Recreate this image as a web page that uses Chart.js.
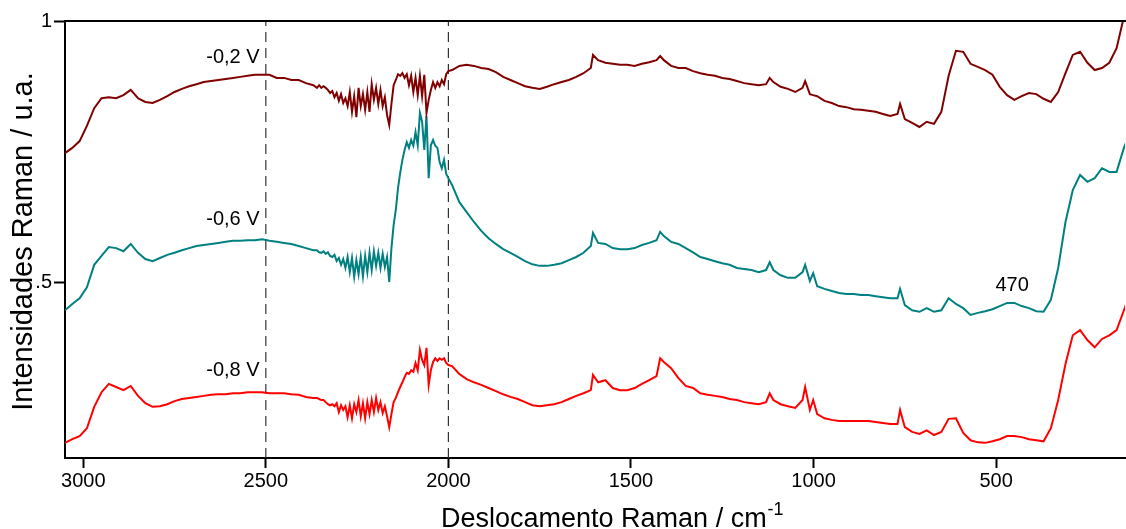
<!DOCTYPE html>
<html>
<head>
<meta charset="utf-8">
<script src="https://cdn.jsdelivr.net/npm/chart.js"></script>
<style>
  html, body { margin: 0; padding: 0; background: #fff; }
  #wrap { width: 1126px; height: 529px; position: relative; }
</style>
</head>
<body>
<div id="wrap"><canvas id="raman"></canvas></div>
<script>
  // Raman shift (cm-1), shared by the three spectra
  const shift = [
    3050,3030,3010,2990,2970,2950,2930,2910,2890,2870,2850,2830,2810,2790,2770,2750,2730,2710,2690,2670,
    2650,2630,2610,2590,2570,2550,2530,2510,2490,2470,2450,2430,2410,2390,2370,
    2360,2354,2348,2342,2336,2330,2324,2318,2312,2306,2300,2294,2288,2282,2276,2270,2264,2258,2252,2246,
    2240,2234,2228,2222,2216,2210,2204,2198,2192,2186,2180,2174,2168,2162,2156,2150,2144,2138,2132,2126,
    2120,2114,2108,2102,2096,2090,2084,2078,2072,2066,2060,2054,2048,2042,2036,2030,2024,2018,2012,2006,2000,
    1990,1970,1950,1930,1910,1890,1870,1850,1830,1810,1790,1770,1750,1730,1710,1690,1670,1650,1630,1610,
    1604,1590,1570,1550,1530,1510,1490,1470,1450,1430,1420,1410,1390,1370,1350,1330,1310,1290,1270,1250,
    1230,1210,1190,1170,1150,1130,1120,1110,1090,1070,1050,1030,1023,1010,1001,990,970,950,930,910,
    890,870,850,830,810,790,770,763,750,730,710,690,670,650,630,610,590,570,550,530,
    510,490,470,450,430,410,390,370,350,330,310,290,270,250,230,210,190,170,150,130
  ];

  // -0,2 V
  const minus02 = [
    0.747,0.757,0.770,0.799,0.833,0.852,0.854,0.852,0.858,0.868,0.852,0.845,0.843,0.849,0.856,0.864,0.870,0.875,0.879,0.883,
    0.885,0.887,0.889,0.891,0.893,0.895,0.897,0.897,0.897,0.891,0.891,0.887,0.887,0.881,0.877,
    0.872,0.877,0.872,0.875,0.872,0.868,0.862,0.866,0.854,0.862,0.847,0.860,0.843,0.852,0.837,0.864,0.826,0.856,0.816,0.872,
    0.837,0.860,0.830,0.864,0.826,0.879,0.849,0.872,0.841,0.868,0.837,0.854,0.820,0.801,0.841,0.877,0.887,0.898,0.895,0.900,
    0.891,0.898,0.877,0.895,0.864,0.891,0.858,0.895,0.856,0.897,0.824,0.849,0.868,0.883,0.872,0.883,0.875,0.887,0.879,0.898,0.904,
    0.906,0.914,0.916,0.914,0.910,0.908,0.902,0.893,0.887,0.881,0.875,0.872,0.870,0.874,0.879,0.883,0.887,0.893,0.900,0.910,
    0.935,0.925,0.920,0.918,0.916,0.916,0.914,0.918,0.921,0.925,0.933,0.925,0.914,0.910,0.910,0.904,0.900,0.897,0.895,0.891,
    0.889,0.885,0.881,0.879,0.877,0.879,0.891,0.883,0.874,0.870,0.864,0.872,0.885,0.860,0.858,0.856,0.847,0.843,0.837,0.835,
    0.831,0.830,0.828,0.826,0.822,0.818,0.822,0.841,0.812,0.805,0.797,0.807,0.803,0.826,0.895,0.943,0.941,0.918,0.912,0.906,
    0.897,0.874,0.858,0.849,0.856,0.862,0.860,0.851,0.845,0.864,0.900,0.935,0.941,0.920,0.906,0.910,0.920,0.948,1.008,1.050
  ];

  // -0,6 V
  const minus06 = [
    0.446,0.458,0.469,0.490,0.533,0.550,0.567,0.565,0.559,0.573,0.556,0.544,0.540,0.546,0.552,0.556,0.561,0.565,0.569,0.571,
    0.573,0.575,0.577,0.579,0.579,0.580,0.580,0.582,0.579,0.577,0.575,0.573,0.569,0.565,0.561,
    0.561,0.557,0.556,0.559,0.554,0.557,0.550,0.548,0.552,0.540,0.546,0.533,0.544,0.527,0.548,0.519,0.546,0.510,0.542,0.515,
    0.548,0.511,0.550,0.519,0.556,0.523,0.559,0.531,0.556,0.527,0.554,0.529,0.548,0.500,0.565,0.609,0.638,0.680,0.709,0.734,
    0.753,0.768,0.757,0.772,0.761,0.787,0.762,0.824,0.807,0.753,0.818,0.699,0.762,0.772,0.761,0.757,0.730,0.718,0.734,0.707,0.699,
    0.686,0.653,0.634,0.615,0.598,0.584,0.573,0.563,0.556,0.548,0.540,0.534,0.531,0.531,0.533,0.536,0.542,0.548,0.556,0.569,
    0.594,0.575,0.573,0.565,0.563,0.563,0.565,0.571,0.575,0.580,0.596,0.588,0.577,0.573,0.565,0.557,0.548,0.544,0.540,0.536,
    0.533,0.527,0.525,0.523,0.519,0.523,0.538,0.523,0.513,0.508,0.508,0.519,0.533,0.502,0.517,0.492,0.487,0.483,0.479,0.477,
    0.477,0.475,0.475,0.473,0.471,0.469,0.469,0.487,0.456,0.446,0.443,0.450,0.443,0.446,0.469,0.458,0.450,0.437,0.441,0.444,
    0.448,0.454,0.460,0.460,0.454,0.450,0.444,0.443,0.466,0.527,0.615,0.676,0.705,0.692,0.699,0.718,0.711,0.711,0.757,0.791
  ];

  // -0,8 V
  const minus08 = [
    0.192,0.199,0.205,0.220,0.261,0.289,0.305,0.299,0.293,0.301,0.282,0.268,0.261,0.262,0.266,0.272,0.276,0.278,0.280,0.282,
    0.284,0.285,0.285,0.287,0.287,0.289,0.289,0.289,0.287,0.287,0.287,0.285,0.284,0.280,0.278,
    0.278,0.276,0.274,0.274,0.270,0.266,0.264,0.266,0.262,0.268,0.251,0.264,0.255,0.262,0.241,0.264,0.239,0.266,0.251,0.274,
    0.243,0.268,0.239,0.270,0.247,0.274,0.251,0.278,0.255,0.270,0.249,0.262,0.243,0.222,0.247,0.270,0.278,0.289,0.299,0.308,
    0.318,0.326,0.324,0.331,0.328,0.345,0.331,0.370,0.351,0.341,0.374,0.303,0.331,0.347,0.354,0.349,0.354,0.351,0.354,0.345,0.341,
    0.339,0.324,0.314,0.308,0.303,0.297,0.291,0.285,0.280,0.276,0.270,0.264,0.262,0.264,0.266,0.270,0.276,0.282,0.287,0.293,
    0.322,0.308,0.312,0.297,0.293,0.293,0.297,0.305,0.312,0.320,0.354,0.347,0.335,0.316,0.301,0.297,0.287,0.284,0.282,0.280,
    0.276,0.274,0.270,0.268,0.266,0.270,0.287,0.274,0.266,0.262,0.259,0.274,0.299,0.255,0.274,0.247,0.239,0.236,0.234,0.234,
    0.234,0.234,0.234,0.232,0.230,0.228,0.228,0.255,0.222,0.213,0.209,0.216,0.207,0.213,0.238,0.239,0.211,0.197,0.193,0.192,
    0.195,0.199,0.205,0.205,0.203,0.199,0.197,0.195,0.220,0.274,0.343,0.398,0.408,0.389,0.375,0.391,0.398,0.408,0.446,0.485
  ];

  const xTicks = [3000, 2500, 2000, 1500, 1000, 500];
  const yTicks = [0.5, 1];
  const markers = [2500, 2000];
  const notes = [
    { text: '-0,2 V', x: 2590, y: 0.931 },
    { text: '-0,6 V', x: 2590, y: 0.619 },
    { text: '-0,8 V', x: 2590, y: 0.331 },
    { text: '470', x: 456, y: 0.494 }
  ];
  const X_MIN = 147, X_MAX = 3050, Y_MIN = 0.163, Y_MAX = 1.0;

  [minus02, minus06, minus08].forEach((s, i) => {
    if (s.length !== shift.length) console.error('series ' + i + ' has ' + s.length + ' points, expected ' + shift.length);
  });

  const FONT = '"Liberation Sans", Arial, sans-serif';
  const toXY = arr => shift.map((x, i) => ({ x, y: arr[i] }));

  function spectrum(data, color) {
    return { data: toXY(data), borderColor: color, borderWidth: 2, pointRadius: 0, tension: 0, fill: false };
  }

  const datasets = [
    spectrum(minus02, '#800000'),
    spectrum(minus06, '#008080'),
    spectrum(minus08, '#ff0000')
  ];
  markers.forEach(m => datasets.push({
    data: [{ x: m, y: Y_MIN }, { x: m, y: Y_MAX }],
    borderColor: '#333', borderWidth: 1.2, borderDash: [10, 6], pointRadius: 0, fill: false
  }));

  const decor = {
    id: 'decor',
    afterDraw(chart) {
      const { ctx, chartArea: a, scales: { x, y } } = chart;
      ctx.save();
      ctx.strokeStyle = '#000';
      ctx.lineWidth = 2;
      ctx.beginPath();
      ctx.moveTo(a.left - 1, a.top);
      ctx.lineTo(chart.width, a.top);
      ctx.stroke();

      ctx.fillStyle = '#000';
      ctx.font = '20px ' + FONT;
      ctx.textAlign = 'center';
      ctx.textBaseline = 'middle';
      notes.forEach(n => ctx.fillText(n.text, x.getPixelForValue(n.x), y.getPixelForValue(n.y)));

      // x title with superscript
      const xTitle = 'Deslocamento Raman / cm';
      ctx.textAlign = 'left';
      ctx.textBaseline = 'alphabetic';
      ctx.font = '27px ' + FONT;
      ctx.fillText(xTitle, 441, 527);
      const w = ctx.measureText(xTitle).width;
      ctx.font = '18px ' + FONT;
      ctx.fillText('-1', 441 + w + 1, 515);

      // y title
      ctx.translate(32, 241.5);
      ctx.rotate(-Math.PI / 2);
      ctx.textAlign = 'center';
      ctx.font = '29px ' + FONT;
      ctx.fillText('Intensidades Raman / u.a.', 0, 0);
      ctx.restore();
    }
  };

  new Chart(document.getElementById('raman'), {
    type: 'line',
    data: { datasets },
    plugins: [decor],
    options: {
      responsive: true, maintainAspectRatio: false, animation: false,
      layout: { padding: { top: 21, right: 1, left: 0, bottom: 0 } },
      plugins: { legend: { display: false }, tooltip: { enabled: false } },
      scales: {
        x: {
          type: 'linear', reverse: true, min: X_MIN, max: X_MAX,
          afterBuildTicks: s => { s.ticks = xTicks.map(v => ({ value: v })); },
          afterFit: s => { s.height = 71; },
          ticks: {
            autoSkip: false, maxRotation: 0, padding: 1, color: '#000', font: { family: FONT, size: 20 },
            callback: v => String(v)
          },
          grid: { drawOnChartArea: false, drawTicks: true, tickLength: 10, tickWidth: 2, tickColor: '#000' },
          border: { display: true, color: '#000', width: 2 }
        },
        y: {
          min: Y_MIN, max: Y_MAX,
          afterBuildTicks: s => { s.ticks = yTicks.map(v => ({ value: v })); },
          afterFit: s => { s.width = 65; },
          ticks: {
            padding: 2, color: '#000', font: { family: FONT, size: 20 },
            callback: v => String(v).replace(/^0\./, '.')
          },
          grid: { drawOnChartArea: false, drawTicks: true, tickLength: 11, tickWidth: 2, tickColor: '#000' },
          border: { display: true, color: '#000', width: 2 }
        }
      }
    }
  });
</script>
</body>
</html>
